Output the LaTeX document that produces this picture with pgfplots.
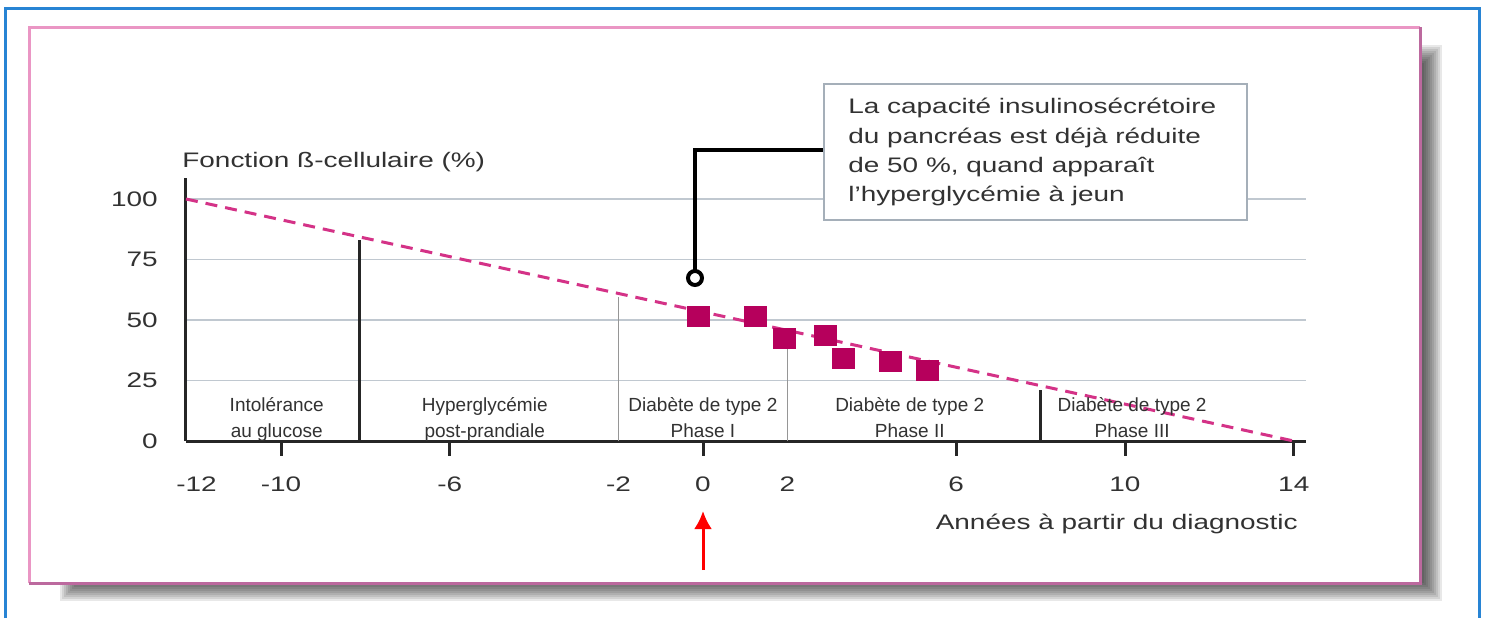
\documentclass[border=0pt]{standalone}
\usepackage{fontspec}
\setmainfont{Liberation Sans}[FakeStretch=1.33]
\newfontfamily\regionfont{Liberation Sans}
\usepackage{pgfplots}
\pgfplotsset{compat=1.18}
\usetikzlibrary{arrows.meta}
\definecolor{txt}{RGB}{50,50,50}
\definecolor{gridc}{RGB}{192,200,208}
\definecolor{dashc}{RGB}{212,50,135}
\definecolor{sq}{RGB}{182,0,92}
\definecolor{pinkf}{RGB}{234,150,196}
\definecolor{pinkd}{RGB}{188,105,158}
\definecolor{bluef}{RGB}{40,132,212}
\definecolor{boxc}{RGB}{165,175,185}
\definecolor{vgray}{RGB}{150,150,150}
\definecolor{axc}{RGB}{38,38,38}
\tikzset{reg/.style={anchor=base, font=\regionfont\fontsize{9.5}{12}\selectfont, text=txt},
  lab/.style={font=\fontsize{10.5}{12}\selectfont, text=txt, inner sep=0pt}}
\begin{document}
\begin{tikzpicture}
\useasboundingbox (0,0) rectangle (742.5pt,309pt);
\begin{scope}[shift={(0pt,309pt)},x=0.5pt,y=-0.5pt]
 \foreach \k in {0,...,9}{\fill[black,opacity=0.09] ({60+2*\k},{45+2*\k}) rectangle ({1442-2*\k},{601-2*\k});}
 \fill[white] (29,27) rectangle (1420,583);
 \draw[pinkf,line width=1.5pt] (29,583) -- (29,27) -- (1420,27);
 \draw[pinkd,line width=1.5pt] (1420,27) -- (1420,583) -- (29,583);
 \draw[bluef,line width=1.5pt] (5,618) -- (5,8) -- (1479,8) -- (1479,618);
\end{scope}
\begin{axis}[
 at={(93pt,88.5pt)}, anchor=south west,
 x=21.1pt, y=1.21pt,
 xmin=-12.25, xmax=14.3, ymin=0, ymax=108.7,
 axis x line*=bottom, axis y line*=left,
 axis line style={line width=1.5pt, axc},
 ymajorgrids, grid style={gridc, line width=0.9pt},
 ytick={0,25,50,75,100}, yticklabels={0,25,50,75,100},
 xtick={-12,-10,-6,-2,0,2,6,10,14}, xticklabels={-12,-10,-6,-2,0,2,6,10,14},
 major tick length=0pt,
 tick style={draw=none},
 tick label style={font=\fontsize{10.5}{12}\selectfont, text=txt},
 xticklabel style={anchor=base, inner sep=0pt, yshift=-25pt},
 yticklabel style={anchor=east, inner sep=0pt, xshift=-14pt},
 clip=false,
]
\addplot[dashc, line width=1.5pt, dash pattern=on 6pt off 4pt] coordinates {(-12.25,100) (14,0)};
\addplot[axc, line width=1.5pt] coordinates {(-8.15,0) (-8.15,83)};
\addplot[vgray, line width=0.8pt] coordinates {(-2,0) (-2,59.5)};
\addplot[vgray, line width=0.8pt] coordinates {(2,0) (2,44)};
\addplot[axc, line width=1.5pt] coordinates {(8,0) (8,21)};
\addplot[only marks, mark=square*, mark size=5pt, mark options={fill=sq, draw=sq, xscale=1.1}, sq] coordinates {(-0.11,51.6) (1.25,51.6) (1.94,42.4) (2.91,43.8) (3.32,34.2) (4.43,32.8) (5.32,29.3)};
\node[reg] at (axis cs:-10.1,12) {Intolérance};
\node[reg] at (axis cs:-10.1,1.65) {au glucose};
\node[reg] at (axis cs:-5.17,12) {Hyperglycémie};
\node[reg] at (axis cs:-5.17,1.65) {post-prandiale};
\node[reg] at (axis cs:0,12) {Diabète de type 2};
\node[reg] at (axis cs:0,1.65) {Phase I};
\node[reg] at (axis cs:4.9,12) {Diabète de type 2};
\node[reg] at (axis cs:4.9,1.65) {Phase II};
\node[reg] at (axis cs:10.17,12) {Diabète de type 2};
\node[reg] at (axis cs:10.17,1.65) {Phase III};
\end{axis}
\begin{scope}[shift={(0pt,309pt)},x=0.5pt,y=-0.5pt]
 \foreach \t in {281,449.8,703,956.2,1125,1293.8}{\draw[axc, line width=1.5pt] (\t,441) -- (\t,456);}
 \draw[black, line width=2pt] (824,150) -- (695,150) -- (695,271);
 \draw[black, line width=2pt, fill=white] (695,278) circle (3.5pt);
 \draw[boxc, line width=1pt, fill=white] (824,84) rectangle (1247,220);
 \node[lab, anchor=base west] at (848,113) {La capacité insulinosécrétoire};
 \node[lab, anchor=base west] at (848,143) {du pancréas est déjà réduite};
 \node[lab, anchor=base west] at (848,172) {de 50 \%, quand apparaît};
 \node[lab, anchor=base west] at (848,201) {l'hyperglycémie à jeun};
 \node[lab, anchor=base west] at (182,167) {Fonction ß-cellulaire (\%)};
 \node[lab, anchor=base east] at (1298,529) {Années à partir du diagnostic};
 \draw[red, line width=1.5pt, -{Latex[length=9pt,width=9pt]}] (703,570) -- (703,511);
\end{scope}
\end{tikzpicture}
\end{document}
